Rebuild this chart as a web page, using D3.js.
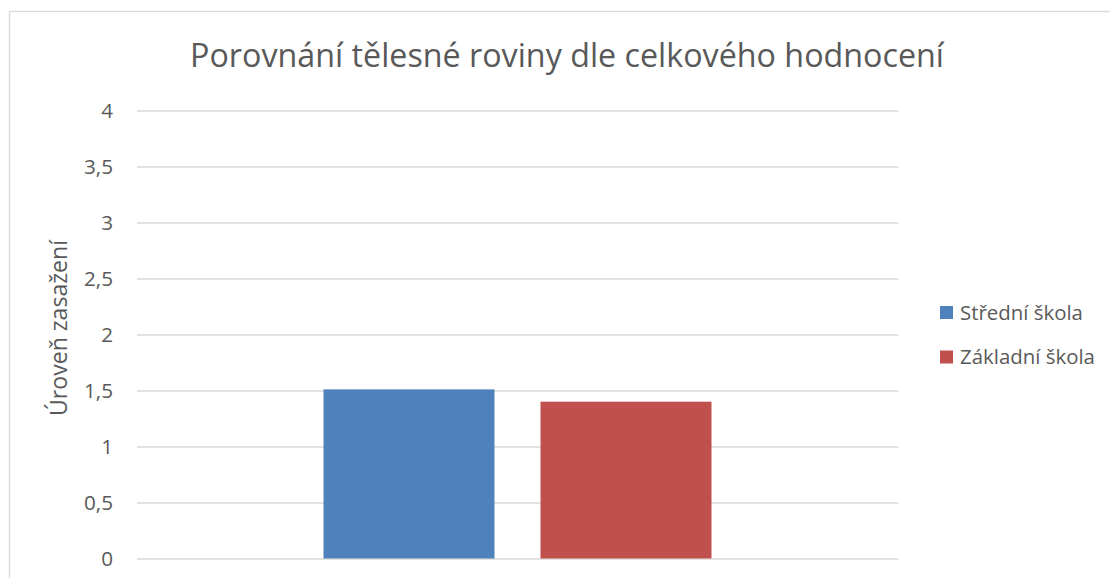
<!DOCTYPE html>
<html>
<head>
<meta charset="utf-8">
<script src="https://cdn.jsdelivr.net/npm/d3@7"></script>
<style>
  html, body { margin: 0; padding: 0; background: #fff; }
  svg { display: block; }
  text { font-family: "Open Sans", "Noto Sans", sans-serif; fill: #595959; }
</style>
</head>
<body>
<svg id="chart" width="1110" height="578"></svg>
<script>
// Chart data
const title = "Porovnání tělesné roviny dle celkového hodnocení";
const yAxisTitle = "Úroveň zasažení";
const categories = [""];
const seriesNames = ["Střední škola", "Základní škola"];
const seriesValues = [[1.51], [1.40]];
const seriesColors = ["#4f81bd", "#c0504d"];
const yTicks = [0, 0.5, 1, 1.5, 2, 2.5, 3, 3.5, 4];

const svg = d3.select("#chart");
const W = 1110, H = 578;
const plot = { left: 137, right: 898, top: 110.5, bottom: 558.5 };

// Shrink or grow a text element so its rendered width equals `target`
function fitWidth(sel, target) {
  sel.each(function () {
    const el = d3.select(this);
    const fs = parseFloat(el.style("font-size"));
    const w = this.getComputedTextLength();
    el.style("font-size", (fs * target / w).toFixed(2) + "px");
  });
}

// Chart-area frame
svg.append("rect")
  .attr("x", 9.5).attr("y", 11.5)
  .attr("width", W + 20).attr("height", H + 20)
  .attr("fill", "#fff").attr("stroke", "#d9d9d9").attr("stroke-width", 1.3);

// Scales
const y = d3.scaleLinear().domain([0, 4]).range([plot.bottom, plot.top]);
const x0 = d3.scaleBand().domain(categories)
  .range([plot.left, plot.right]).paddingInner(0).paddingOuter(0.4807);
const x1 = d3.scaleBand().domain(seriesNames)
  .range([0, x0.bandwidth()]).paddingInner(0.212).paddingOuter(0);

// Gridlines + tick labels
const yAxis = d3.axisLeft(y)
  .tickValues(yTicks)
  .tickSize(-(plot.right - plot.left))
  .tickPadding(24)
  .tickFormat(d => String(d).replace(".", ","));

const gy = svg.append("g")
  .attr("transform", `translate(${plot.left},0)`)
  .call(yAxis);
gy.select(".domain").remove();
gy.selectAll(".tick line").attr("stroke", "#d9d9d9").attr("stroke-width", 1.3);
gy.selectAll(".tick text")
  .attr("fill", "#595959")
  .style("font-family", '"Open Sans", "Noto Sans", sans-serif')
  .style("font-size", "18px")
  .attr("dy", "0.36em");
fitWidth(gy.selectAll(".tick text").filter(d => d === 3.5), 29);
const tickFs = gy.selectAll(".tick text").filter(d => d === 3.5).style("font-size");
gy.selectAll(".tick text").style("font-size", tickFs);

// Bars
const groups = svg.append("g").selectAll("g")
  .data(categories)
  .join("g")
  .attr("transform", d => `translate(${x0(d)},0)`);

groups.selectAll("rect")
  .data((d, ci) => seriesNames.map((s, si) => ({ s, si, v: seriesValues[si][ci] })))
  .join("rect")
  .attr("x", d => x1(d.s))
  .attr("width", x1.bandwidth())
  .attr("y", d => y(d.v))
  .attr("height", d => y(0) - y(d.v))
  .attr("fill", d => seriesColors[d.si]);

// Title
const t = svg.append("text")
  .attr("x", 567).attr("y", 67)
  .attr("text-anchor", "middle")
  .style("font-size", "30px")
  .text(title);
fitWidth(t, 754);

// Y axis title
const yt = svg.append("text")
  .attr("transform", "translate(67,328) rotate(-90)")
  .attr("text-anchor", "middle")
  .style("font-size", "18px")
  .text(yAxisTitle);
fitWidth(yt, 176);

// Legend
const legend = svg.append("g").selectAll("g")
  .data(seriesNames)
  .join("g")
  .attr("transform", (d, i) => `translate(940,${306 + i * 44.5})`);
legend.append("rect")
  .attr("width", 13).attr("height", 13)
  .attr("fill", (d, i) => seriesColors[i]);
const lt = legend.append("text")
  .attr("x", 20).attr("y", 13.5)
  .style("font-size", "18px")
  .text(d => d);
fitWidth(lt.filter((d, i) => i === 0), 123);
lt.style("font-size", lt.filter((d, i) => i === 0).style("font-size"));
</script>
</body>
</html>
